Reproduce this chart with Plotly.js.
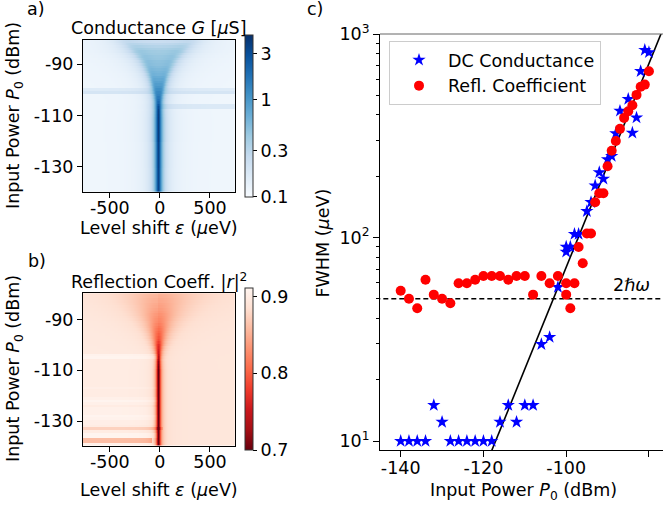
<!DOCTYPE html>
<html><head><meta charset="utf-8">
<script src="https://cdn.plot.ly/plotly-3.0.1.min.js"></script>
<style>html,body{margin:0;padding:0;background:#fff}#chart{width:663px;height:506px}</style>
</head><body><div id="chart"></div>
<script>
// ---------- Panel c : FWHM vs input power ----------
const dcPower = [-140,-138,-136,-134,-132,-130,-128,-126,-124,-122,-120,-118,-116,-114,-112,-110,-108,-106,-104,-102,-100,-100,-99,-98,-97,-95,-94,-93,-92,-91,-90,-89,-88,-87,-85,-84,-83,-82,-81,-80];
const dcFwhm  = [10,10,10,10,15,12.4,10,10,10,10,10,10,12.4,15,12.4,15,15,29.9,32.4,57,90,85,90,104,104,134.6,149,180,209,194,242,251,325,419,479,327,388,656,834,813];
const rfPower = [-140,-138,-136,-134,-132,-130,-128,-126,-124,-122,-120,-118,-116,-114,-112,-110,-108,-106,-104,-102,-100,-100,-99,-98,-97,-96,-95,-94,-93,-92,-91,-90,-89,-88,-87,-86,-85,-84,-83,-82,-81,-80];
const rfFwhm  = [54.8,50,44.9,62,52.4,50,47.5,59.6,59.6,62,64.7,64.7,64.7,62,64.7,64.7,52.4,64.7,59.6,64.7,59.6,52.4,44.9,59.6,89.8,74.7,104.7,104.7,149,165,165,224,267,298,342,387,417,447,502,551,564,656];
const fitPower = [-119, -76];
const fitFwhm  = [8.0, 1135];
const twoHbarOmega = 50;
const seriesNames = ['DC Conductance', 'Refl. Coefficient'];

// ---------- Panel a : conductance map rows (dBm) ----------
const mapPowerA = [-140,-139,-138,-137,-136,-135,-134,-133,-132,-131,-130,-129,-128,-127,-126,-125,-124,-123,-122,-121,-120,-119,-118,-117,-116,-115,-114,-113,-112,-111,-110,-109,-108,-107,-106,-105,-104,-103,-102,-101,-100,-99,-98,-97,-96,-95,-94,-93,-92,-91,-90,-89,-88,-87,-86,-85,-84,-83,-82,-81];
// half amplitude of the level sweep per row (µeV)
const sweepA = [0,0,0,0,0,0,0,0,0,0,0,0,0,0,0,0,0,0,0,0,0,0,0,0,0,0,0,0,0,0,0,0,0,
  5,8,12,16,20,25,30,36,42,48,55,62,70,80,90,100,112,125,140,158,176,196,220,245,275,310,345];
// intrinsic line width per row (µeV)
const gammaA = [15,15,15,15,15,15,15,15,15,15,15,15,15,15,15,15,15,15,15,15,15,15,15,15,15,15,15,15,15,15,15,15,15,
  16,17,18,19,20,21,22,24,26,28,30,32,35,38,42,45,48,52,56,60,65,70,75,80,85,90,95];
// peak conductance per row (µS)
const peakA = [3.4,3.4,3.4,3.4,3.4,3.4,3.4,3.4,3.4,3.4,3.5,3.5,3.5,3.5,3.5,3.5,3.5,3.5,3.5,3.5,3.8,3.8,3.8,3.8,3.8,3.8,3.8,3.8,3.8,3.8,3.7,3.6,3.5,
  3.2,2.8,2.4,2.2,2.1,2.0,1.9,1.8,1.7,1.6,1.5,1.4,1.3,1.2,1.15,1.1,1.05,1.0,1.0,0.95,0.95,0.9,0.9,0.8,0.7,0.6,0.5];
const bgLevelA = 0.115;
const centerA = -15;          // µeV
const streakA_P     = [-101, -100, -107, -106];
const streakA_from  = [-800, -800, 0, 0];
const streakA_to    = [800, 800, 800, 800];
const streakA_level = [0.19, 0.16, 0.17, 0.17];

// ---------- Panel b : reflection map rows (dBm) ----------
const mapPowerB = [-140,-139,-138,-137,-136,-135,-134,-133,-132,-131,-130,-129,-128,-127,-126,-125,-124,-123,-122,-121,-120,-119,-118,-117,-116,-115,-114,-113,-112,-111,-110,-109,-108,-107,-106,-105,-104,-103,-102,-101,-100,-99,-98,-97,-96,-95,-94,-93,-92,-91,-90,-89,-88,-87,-86,-85,-84,-83,-82,-81,-80];
const widthB = [20,20,20,20,20,20,20,20,20,20,20,20,20,20,20,20,20,20,20,20,20,20,20,20,20,20,20,20,20,20,20,20,20,20,20,
  22,25,28,32,36,42,48,56,64,72,82,92,104,116,130,145,160,178,196,215,235,258,282,308,335,365];
const depthB = [0.2,0.2,0.2,0.2,0.2,0.2,0.2,0.2,0.2,0.2,0.2,0.2,0.2,0.2,0.2,0.2,0.2,0.2,0.2,0.2,0.2,0.2,0.2,0.2,0.2,0.2,0.2,0.2,0.2,0.2,0.2,
  0.19,0.185,0.18,0.17,0.16,0.15,0.14,0.135,0.13,0.125,0.115,0.105,0.1,0.095,0.09,0.085,0.08,0.075,0.07,0.068,0.065,0.062,0.058,0.055,0.052,0.05,0.047,0.045,0.042,0.04];
const bgLeftB = [0.905,0.905,0.9,0.9,0.91,0.91,0.9,0.9,0.9,0.903,0.903,0.908,0.91,0.905,0.905,0.905,0.9,0.905,0.91,0.905,0.9,0.9,0.9,0.903,0.9,0.9,0.9,0.9,0.9,0.9,0.9,0.9,0.9,0.9,0.9,
  0.91,0.908,0.897,0.897,0.897,0.897,0.897,0.897,0.897,0.897,0.897,0.897,0.897,0.897,0.897,0.897,0.897,0.897,0.897,0.897,0.897,0.897,0.897,0.897,0.897,0.897];
const bgRightB = 0.893;
const centerB = -15;
const streakB_P     = [-133, -137, -138];
const streakB_from  = [-800, -800, -800];
const streakB_to    = [30, -80, -80];
const streakB_level = [0.875, 0.86, 0.86];

// sampling grid along the level shift (µeV)
const epsGrid = [];
for (let e = -765; e <= 745; e += 10) epsGrid.push(e);

function sweptLorentz(x, A, g) {
  if (A <= 0) return g * g / (x * x + g * g);
  const N = 400; let s = 0;
  for (let k = 0; k < N; k++) {
    const d = x - A * Math.sin((k + 0.5) / N * 2 * Math.PI);
    s += g * g / (d * d + g * g);
  }
  return s / N;
}

const zA = mapPowerA.map((p, i) => epsGrid.map(e => {
  let base = bgLevelA;
  for (let s = 0; s < streakA_P.length; s++)
    if (streakA_P[s] === p && e >= streakA_from[s] && e <= streakA_to[s]) base = streakA_level[s];
  return Math.log10(base + peakA[i] * sweptLorentz(e - centerA, sweepA[i], gammaA[i]));
}));

const zB = mapPowerB.map((p, i) => epsGrid.map(e => {
  let base = e < centerB ? bgLeftB[i] : bgRightB;
  for (let s = 0; s < streakB_P.length; s++)
    if (streakB_P[s] === p && e >= streakB_from[s] && e <= streakB_to[s]) base = streakB_level[s];
  const x = e - centerB, w = widthB[i];
  return base - depthB[i] * w * w / (x * x + w * w);
}));

const blues = [[0,'#f7fbff'],[0.125,'#deebf7'],[0.25,'#c6dbef'],[0.375,'#9ecae1'],[0.5,'#6baed6'],[0.625,'#4292c6'],[0.75,'#2171b5'],[0.875,'#08519c'],[1,'#08306b']];
const redsR = [[0,'#67000d'],[0.125,'#a50f15'],[0.25,'#cb181d'],[0.375,'#ef3b2c'],[0.5,'#fb6a4a'],[0.625,'#fc9272'],[0.75,'#fcbba1'],[0.875,'#fee0d2'],[1,'#fff5f0']];

const W = 663, H = 506;
const px = v => v / W, py = v => 1 - v / H;
const F = 'DejaVu Sans';
const fs = 17.5;
const font = {family: F, size: fs, color: '#000'};

const cbTickG = [0.1, 0.3, 1, 3];
const cbTickR = [0.7, 0.8, 0.9];

const traces = [
  {type: 'heatmap', x: epsGrid, y: mapPowerA, z: zA, xaxis: 'x', yaxis: 'y',
   colorscale: blues, zmin: -1, zmax: 0.672, zsmooth: false, hoverinfo: 'skip',
   colorbar: {x: px(245), xanchor: 'left', xref: 'paper', y: py(115.85), yanchor: 'middle', yref: 'paper',
     len: 161.7 / H, lenmode: 'fraction', thickness: 8, xpad: 0, ypad: 0,
     outlinewidth: 1, outlinecolor: '#333', ticks: 'outside', ticklen: 4, tickcolor: '#000',
     tickvals: cbTickG.map(v => Math.log10(v)), ticktext: cbTickG.map(String), tickfont: font}},
  {type: 'heatmap', x: epsGrid, y: mapPowerB, z: zB, xaxis: 'x2', yaxis: 'y2',
   colorscale: redsR, zmin: 0.7, zmax: 0.911, zsmooth: false, hoverinfo: 'skip',
   colorbar: {x: px(245), xanchor: 'left', xref: 'paper', y: py(369.15), yanchor: 'middle', yref: 'paper',
     len: 161.7 / H, lenmode: 'fraction', thickness: 8, xpad: 0, ypad: 0,
     outlinewidth: 1, outlinecolor: '#333', ticks: 'outside', ticklen: 4, tickcolor: '#000',
     tickvals: cbTickR, ticktext: cbTickR.map(String), tickfont: font}},
  {type: 'scatter', mode: 'lines', x: fitPower, y: fitFwhm, xaxis: 'x3', yaxis: 'y3',
   line: {color: '#000', width: 1.6}, showlegend: false, hoverinfo: 'skip'},
  {type: 'scatter', mode: 'lines', x: [-150, -70], y: [twoHbarOmega, twoHbarOmega], xaxis: 'x3', yaxis: 'y3',
   line: {color: '#000', width: 1.6, dash: '5px,3px'}, showlegend: false, hoverinfo: 'skip'},
  {type: 'scatter', mode: 'markers', name: seriesNames[0], x: dcPower, y: dcFwhm, xaxis: 'x3', yaxis: 'y3',
   marker: {symbol: 'star', size: 10, color: '#0000ff', line: {width: 0}}},
  {type: 'scatter', mode: 'markers', name: seriesNames[1], x: rfPower, y: rfFwhm, xaxis: 'x3', yaxis: 'y3',
   marker: {symbol: 'circle', size: 10, color: '#ff0000', line: {width: 0}}}
];

const hmX = {domain: [px(83), px(235)], range: [-768, 750], tickvals: [-500, 0, 500], ticktext: ['-500', '0', '500'],
  showline: true, mirror: true, linecolor: '#000', linewidth: 1, ticks: 'outside', ticklen: 5, tickcolor: '#000',
  ticklabelstandoff: -5, showgrid: false, zeroline: false, tickfont: font};
const hmY = {tickvals: [-90, -110, -130], ticktext: ['-90', '-110', '-130'],
  showline: true, mirror: true, linecolor: '#000', linewidth: 1, ticks: 'outside', ticklen: 5, tickcolor: '#000',
  showgrid: false, zeroline: false, tickfont: font};

const minorVals = [];
[10, 100].forEach(d => { for (let k = 2; k <= 9; k++) minorVals.push(k * d); });

const layout = {
  width: W, height: H, margin: {l: 0, r: 0, t: 0, b: 0}, paper_bgcolor: '#fff', plot_bgcolor: '#fff',
  font: font, showlegend: true,
  xaxis: Object.assign({}, hmX, {anchor: 'y'}),
  yaxis: Object.assign({}, hmY, {anchor: 'x', domain: [py(191.7), py(40)], range: [-139.8, -80.5]}),
  xaxis2: Object.assign({}, hmX, {anchor: 'y2'}),
  yaxis2: Object.assign({}, hmY, {anchor: 'x2', domain: [py(445.5), py(293.3)], range: [-139.6, -79.7]}),
  xaxis3: {anchor: 'y3', domain: [px(380), 1], range: [-145, -76.6], tickvals: [-140, -120, -100, -80],
    ticktext: ['-140', '-120', '-100', '-80'], showline: true, linecolor: '#000', linewidth: 1,
    ticks: 'outside', ticklen: 6, tickcolor: '#000', ticklabelstandoff: -4, showgrid: false, zeroline: false, tickfont: font},
  yaxis3: {anchor: 'x3', type: 'log', domain: [py(450), py(34)], range: [0.956, 3], tickvals: [10, 100, 1000],
    ticktext: ['10<sup>1</sup>', '10<sup>2</sup>', '10<sup>3</sup>'], showline: true, linecolor: '#000', linewidth: 1,
    ticks: 'outside', ticklen: 6, tickcolor: '#000', showgrid: false, zeroline: false, tickfont: font,
    minor: {tickvals: minorVals, ticks: 'outside', ticklen: 3.5, tickcolor: '#000', showgrid: false}},
  legend: {x: px(389), y: py(41), xanchor: 'left', yanchor: 'top', bgcolor: 'rgba(255,255,255,0.85)',
    bordercolor: '#cccccc', borderwidth: 1, font: font, itemwidth: 48, tracegroupgap: 0},
  shapes: [{type: 'line', xref: 'paper', yref: 'paper', x0: px(380), x1: 1, y0: py(34), y1: py(34),
    line: {color: '#666', width: 1}}],
  annotations: [
    {text: 'a)', x: px(36), y: py(8.5)},
    {text: 'b)', x: px(37), y: py(261)},
    {text: 'c)', x: px(315), y: py(8.5)},
    {text: 'Conductance <i>G</i> [<i>µ</i>S]', x: px(158.5), y: py(28)},
    {text: 'Reflection Coeff. |<i>r</i>|<sup>2</sup>', x: px(158.5), y: py(281)},
    {text: 'Level shift <i>ε</i> (<i>µ</i>eV)', x: px(159), y: py(228)},
    {text: 'Level shift <i>ε</i> (<i>µ</i>eV)', x: px(159), y: py(490)},
    {text: 'Input Power <i>P</i><sub>0</sub> (dBm)', x: px(14), y: py(116), textangle: -90},
    {text: 'Input Power <i>P</i><sub>0</sub> (dBm)', x: px(14), y: py(369), textangle: -90},
    {text: 'FWHM (<i>µ</i>eV)', x: px(322.5), y: py(243), textangle: -90},
    {text: 'Input Power <i>P</i><sub>0</sub> (dBm)', x: px(523), y: py(491)},
    {text: '2<i>ℏω</i>', x: px(631.5), y: py(284.5)}
  ].map(a => Object.assign({xref: 'paper', yref: 'paper', xanchor: 'center', yanchor: 'middle', showarrow: false, font: font}, a))
};

Plotly.newPlot('chart', traces, layout, {staticPlot: true, displayModeBar: false});
</script>
</body></html>
